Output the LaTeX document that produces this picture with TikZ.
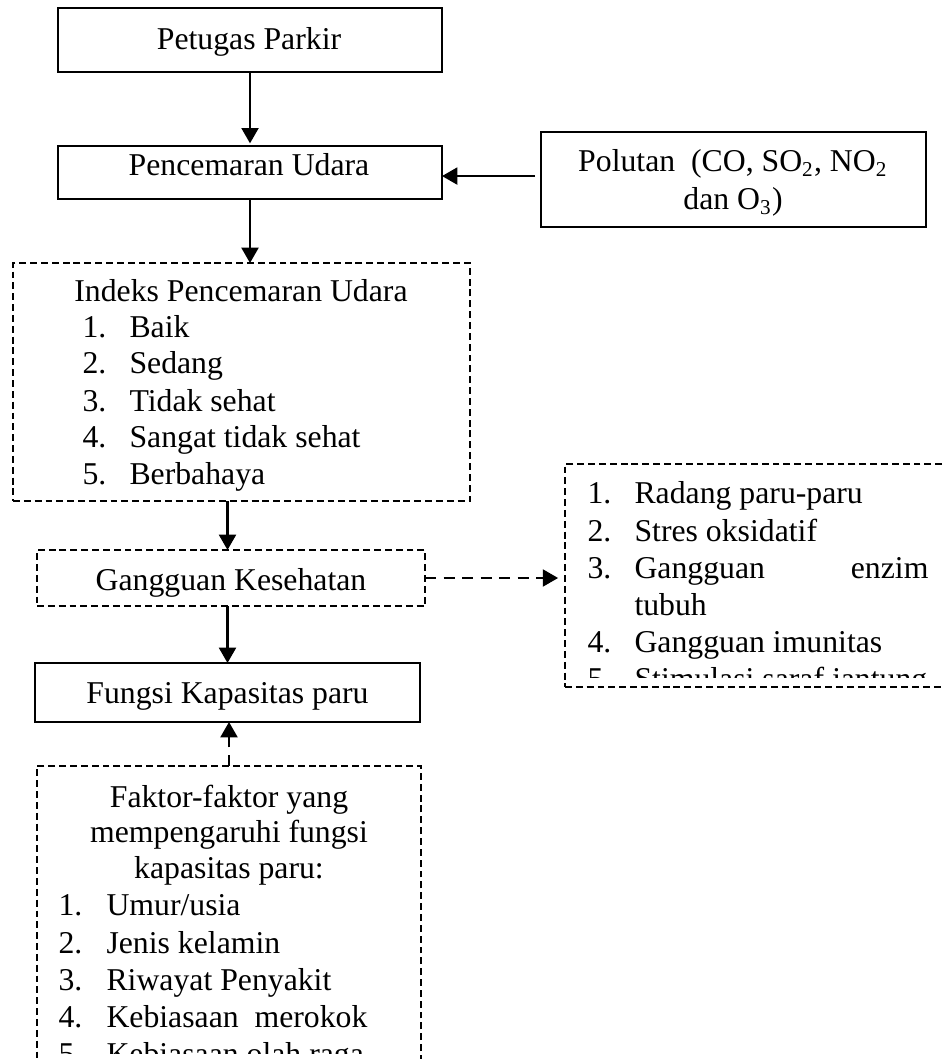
\documentclass[tikz,border=0pt]{standalone}
\usepackage{fontspec}
\setmainfont{Liberation Serif}
\usetikzlibrary{arrows.meta,fit}
\begin{document}
\begin{tikzpicture}[x=0.378pt,y=-0.378pt,
  font=\fontsize{12pt}{13.8pt}\selectfont,
  sbox/.style={draw, line width=0.75pt, inner sep=0pt, outer sep=0pt},
  dbox/.style={draw, line width=0.6pt, inner sep=0pt, outer sep=0pt, dash pattern=on 2.6pt off 1.5pt},
  arr/.style={line width=0.9pt, -{Triangle[length=5.8pt,width=6.4pt]}},
  darr/.style={arr, dash pattern=on 4.2pt off 2.8pt},
  txt/.style={inner sep=0pt, anchor=base},
  lt/.style={inner sep=0pt, anchor=base west}]
\clip (0,0) rectangle (942,1059);
\fill[white] (0,0) rectangle (942,1059);

% boxes
\node[sbox, fit={(58,8) (442,72)}] (pet) {};
\node[sbox, fit={(58,146) (442,199)}] (pen) {};
\node[sbox, fit={(541,132) (926,227)}] (pol) {};
\node[dbox, fit={(13,263) (470,501)}] (ind) {};
\node[dbox, fit={(37,550) (425,606)}] (gang) {};
\node[sbox, fit={(35,663) (420,722)}] (fun) {};
\node[dbox, fit={(565,464) (962,687)}] (gl) {};
\node[dbox, fit={(37,766) (421,1090)}] (fak) {};

% texts
\node[txt] (petT) at (249,50) {Petugas Parkir};
\node[txt] (penT) at (249,176) {Pencemaran Udara};
\node[txt] (polT1) at (733,172) {Polutan\ \ (CO, SO\textsubscript{2}, NO\textsubscript{2}};
\node[txt] (polT2) at (733,210) {dan O\textsubscript{3})};
\node[txt] (gangT) at (231,590) {Gangguan Kesehatan};
\node[txt] (funT) at (227.5,703) {Fungsi Kapasitas paru};

% Indeks list
\node[txt] (indT) at (241,302) {Indeks Pencemaran Udara};
\foreach \n/\t/\y in {1/Baik/338, 2/Sedang/374, 3/Tidak sehat/411, 4/Sangat tidak sehat/447, 5/Berbahaya/484}{
  \node[lt] (indN\n) at (82,\y) {\n.};
  \node[lt] (indI\n) at (129,\y) {\t};
}

% Gangguan list
\node[lt] (glN1) at (587,503) {1.};
\node[lt] (glI1) at (634,503) {Radang paru-paru};
\node[lt] (glN2) at (587,541) {2.};
\node[lt] (glI2) at (634,541) {Stres oksidatif};
\node[lt] (glN3) at (587,578) {3.};
\node[lt] (glI3) at (634,578) {\makebox[111.1pt][l]{Gangguan\hfill enzim}};
\node[lt] (glI3b) at (634,615) {tubuh};
\node[lt] (glN4) at (587,652) {4.};
\node[lt] (glI4) at (634,652) {Gangguan imunitas};
\begin{scope}
  \clip (560,640) rectangle (942,677);
  \node[lt] (glN5) at (587,689) {5.};
  \node[lt] (glI5) at (634,689) {Stimulasi saraf jantung};
\end{scope}

% Faktor list
\node[txt] (fakT1) at (229,807) {Faktor-faktor yang};
\node[txt] (fakT2) at (229,842) {mempengaruhi fungsi};
\node[txt] (fakT3) at (229,878) {kapasitas paru:};
\foreach \n/\t/\y in {1/Umur\slash usia/915, 2/Jenis kelamin/953, 3/Riwayat Penyakit/990, 4/Kebiasaan\ \ merokok/1027}{
  \node[lt] (fakN\n) at (58,\y) {\n.};
  \node[lt] (fakI\n) at (106,\y) {\t};
}
\begin{scope}
  \clip (40,1030) rectangle (418,1053);
  \node[lt] (fakN5) at (58,1064) {5.};
  \node[lt] (fakI5) at (106,1064) {Kebiasaan olah raga};
\end{scope}

% connectors
\draw[arr, shorten >=1pt] (pet.south) -- (pet.south |- pen.north);
\draw[arr] (pen.south) -- (pen.south |- ind.north);
\draw[arr, shorten <=2.2pt] ([yshift=1.3pt]pol.west) -- ([yshift=1.3pt]pol.west -| pen.east);
\draw[arr] (fun.north |- ind.south) -- (fun.north |- gang.north);
\draw[arr] (fun.north |- gang.south) -- (fun.north);
\draw[darr] (fak.north) -- (fak.north |- fun.south);
\draw[darr, shorten >=2.6pt] (gang.east) -- (gang.east -| gl.west);
\end{tikzpicture}
\end{document}
